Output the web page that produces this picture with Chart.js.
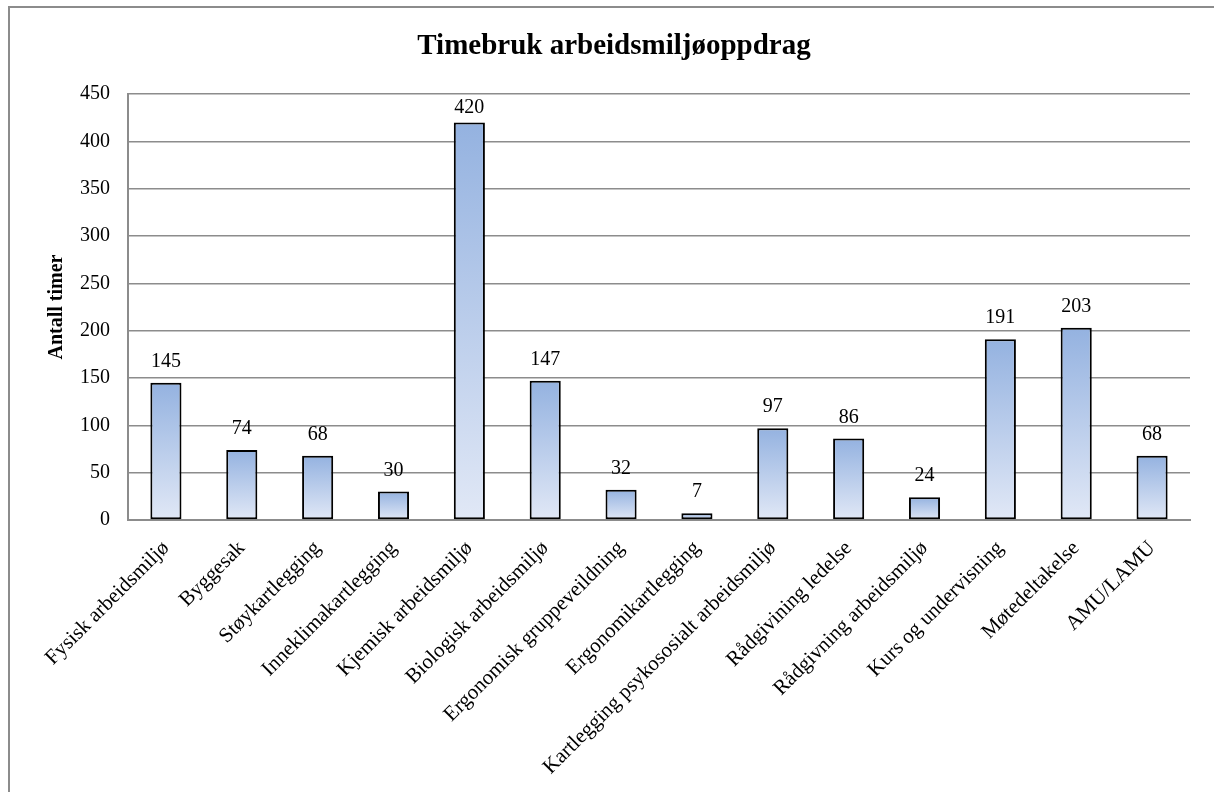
<!DOCTYPE html>
<html>
<head>
<meta charset="utf-8">
<script src="https://cdn.jsdelivr.net/npm/chart.js@4"></script>
<style>
  body { margin: 0; background: #fff; }
  #wrap { position: relative; width: 1214px; height: 792px; }
  #frame { position: absolute; left: 8px; top: 6px; right: 0; bottom: 0;
           border-top: 2px solid #8c8c8c; border-left: 2px solid #8c8c8c; pointer-events: none; }
</style>
</head>
<body>
<div id="wrap">
  <canvas id="chart" width="1214" height="792"></canvas>
  <div id="frame"></div>
</div>
<script>
const categories = [
  "Fysisk arbeidsmiljø", "Byggesak", "Støykartlegging", "Inneklimakartlegging",
  "Kjemisk arbeidsmiljø", "Biologisk arbeidsmiljø", "Ergonomisk gruppeveildning",
  "Ergonomikartlegging", "Kartlegging psykososialt arbeidsmiljø", "Rådgivining ledelse",
  "Rådgivning arbeidsmiljø", "Kurs og undervisning", "Møtedeltakelse", "AMU/LAMU"
];
const hours = [145, 74, 68, 30, 420, 147, 32, 7, 97, 86, 24, 191, 203, 68];
const yMin = 0, yMax = 450, yStep = 50;

const serif = '"Liberation Serif", "Times New Roman", serif';

function barGradient(context) {
  const chart = context.chart;
  if (!chart.chartArea || context.parsed == null) return '#a9c0e8';
  const y = chart.scales.y;
  const top = y.getPixelForValue(context.parsed.y);
  const bottom = y.getPixelForValue(0);
  const g = chart.ctx.createLinearGradient(0, top, 0, bottom);
  g.addColorStop(0, '#94b2e0');
  g.addColorStop(1, '#e1e8f6');
  return g;
}

// value labels above the bars and the chart title
const labelsAndTitle = {
  id: 'labelsAndTitle',
  afterDatasetsDraw(chart) {
    const ctx = chart.ctx;
    ctx.save();
    ctx.fillStyle = '#000';
    ctx.font = '20px ' + serif;
    ctx.textAlign = 'center';
    ctx.textBaseline = 'alphabetic';
    chart.getDatasetMeta(0).data.forEach((bar, i) => {
      const yPos = Math.max(bar.y - 16, chart.chartArea.top + 19);
      ctx.fillText(String(hours[i]), bar.x, yPos);
    });
    ctx.font = 'bold 29px ' + serif;
    ctx.fillText('Timebruk arbeidsmiljøoppdrag', 614, 54);
    ctx.restore();
  }
};

new Chart(document.getElementById('chart'), {
  type: 'bar',
  data: {
    labels: categories,
    datasets: [{
      data: hours,
      backgroundColor: barGradient,
      borderColor: '#000',
      borderWidth: 2,
      borderSkipped: false,
      barPercentage: 0.41,
      categoryPercentage: 1
    }]
  },
  options: {
    responsive: false,
    animation: false,
    devicePixelRatio: 1,
    layout: { padding: { top: 94, right: 24, left: 0, bottom: 0 } },
    plugins: { legend: { display: false }, tooltip: { enabled: false } },
    scales: {
      x: {
        afterFit(scale) { scale.height = 272; },
        grid: { display: false, drawTicks: false },
        border: { color: '#8c8c8c', width: 2 },
        ticks: {
          color: '#000', font: { family: serif, size: 21 },
          minRotation: 45, maxRotation: 45, autoSkip: false, padding: 16
        }
      },
      y: {
        min: yMin, max: yMax,
        afterFit(scale) { scale.width = 128; },
        grid: { color: '#8c8c8c', lineWidth: 1.5, drawTicks: false },
        border: { color: '#8c8c8c', width: 2 },
        ticks: { stepSize: yStep, color: '#000', font: { family: serif, size: 20 }, padding: 18 },
        title: {
          display: true, text: 'Antall timer', color: '#000',
          font: { family: serif, size: 20, weight: 'bold' },
          padding: { top: 45, bottom: 0 }
        }
      }
    }
  },
  plugins: [labelsAndTitle]
});
</script>
</body>
</html>
